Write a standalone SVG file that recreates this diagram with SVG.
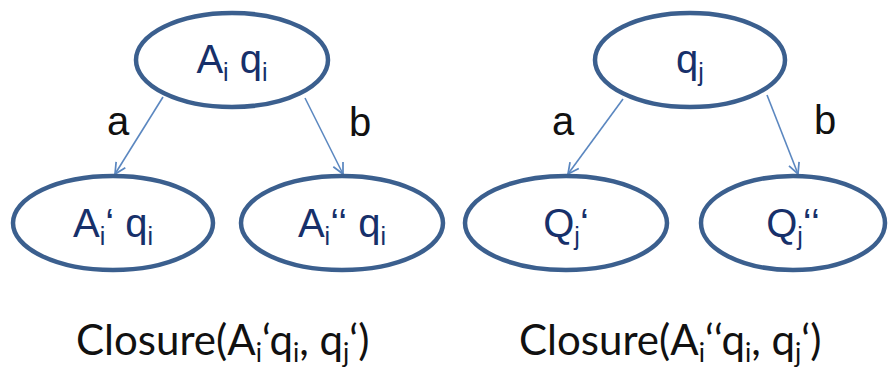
<svg xmlns="http://www.w3.org/2000/svg" width="888" height="371" viewBox="0 0 888 371">
<defs>
<style>
.node ellipse{fill:#fff;stroke:#3b5f8e;stroke-width:4.5}
.nt{font-family:"Liberation Sans",Arial,sans-serif;font-size:40px;fill:#17306a}
.sub{font-size:25px}
.edge{stroke:#5b87c0;stroke-width:1.6;fill:none;marker-end:url(#ah)}
.lbl{font-family:"Liberation Sans",Arial,sans-serif;font-size:40px;fill:#111}
.cl{font-family:Lato,"Open Sans",sans-serif;font-size:42px;fill:#111}
.cls{font-size:26px}
</style>
<marker id="ah" viewBox="0 0 12 12" refX="11" refY="6" markerWidth="13" markerHeight="13" markerUnits="userSpaceOnUse" orient="auto">
<path d="M1,1 L11,6 L1,11" fill="none" stroke="#5b87c0" stroke-width="1.6"/>
</marker>
</defs>
<rect width="888" height="371" fill="#fff"/>
<g id="connectors">
<line class="edge" x1="163" y1="97" x2="115" y2="174"/>
<line class="edge" x1="305" y1="98" x2="343" y2="174"/>
<line class="edge" x1="623" y1="99" x2="568" y2="174"/>
<line class="edge" x1="767" y1="95" x2="798" y2="174"/>
<text class="lbl" x="118" y="135" text-anchor="middle">a</text>
<text class="lbl" x="360" y="136" text-anchor="middle">b</text>
<text class="lbl" x="563" y="135" text-anchor="middle">a</text>
<text class="lbl" x="825" y="134" text-anchor="middle">b</text>
</g>
<g id="n1" class="node">
<ellipse cx="232" cy="60" rx="96" ry="47"/>
<text class="nt" x="232" y="73" text-anchor="middle">A<tspan class="sub" dy="8">i</tspan><tspan dy="-8"> q</tspan><tspan class="sub" dy="8">i</tspan></text>
</g>
<g id="n2" class="node">
<ellipse cx="690" cy="60" rx="95" ry="47"/>
<text class="nt" x="690" y="73" text-anchor="middle">q<tspan class="sub" dy="8">j</tspan></text>
</g>
<g id="n3" class="node">
<ellipse cx="113" cy="223" rx="100" ry="47"/>
<text class="nt" x="113" y="237" text-anchor="middle">A<tspan class="sub" dy="8">i</tspan><tspan dy="-8">‘ q</tspan><tspan class="sub" dy="8">i</tspan></text>
</g>
<g id="n4" class="node">
<ellipse cx="342" cy="223" rx="101" ry="47"/>
<text class="nt" x="342" y="237" text-anchor="middle">A<tspan class="sub" dy="8">i</tspan><tspan dy="-8">‘‘ q</tspan><tspan class="sub" dy="8">i</tspan></text>
</g>
<g id="n5" class="node">
<ellipse cx="566" cy="223" rx="101" ry="47"/>
<text class="nt" x="566" y="237" text-anchor="middle">Q<tspan class="sub" dy="8">j</tspan><tspan dy="-8">‘</tspan></text>
</g>
<g id="n6" class="node">
<ellipse cx="793" cy="223" rx="92" ry="47"/>
<text class="nt" x="793" y="237" text-anchor="middle">Q<tspan class="sub" dy="8">j</tspan><tspan dy="-8">‘‘</tspan></text>
</g>
<g id="captions">
<text class="cl" x="76" y="355">Closure(A<tspan class="cls" dy="7">i</tspan><tspan dy="-7">‘q</tspan><tspan class="cls" dy="7">i</tspan><tspan dy="-7">, q</tspan><tspan class="cls" dy="7">j</tspan><tspan dy="-7">‘)</tspan></text>
<text class="cl" x="519" y="355">Closure(A<tspan class="cls" dy="7">i</tspan><tspan dy="-7">‘‘q</tspan><tspan class="cls" dy="7">i</tspan><tspan dy="-7">, q</tspan><tspan class="cls" dy="7">j</tspan><tspan dy="-7">‘)</tspan></text>
</g>
</svg>
